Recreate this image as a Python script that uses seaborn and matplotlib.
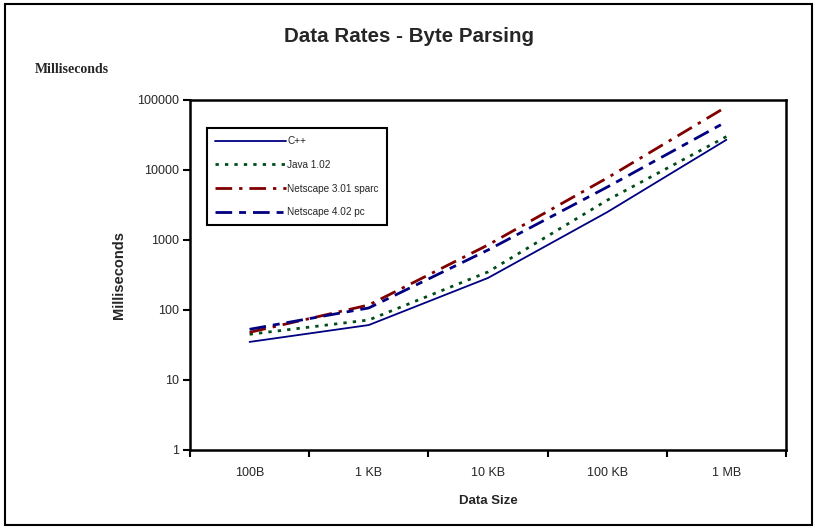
import matplotlib
matplotlib.use('Agg')
import matplotlib.pyplot as plt
import seaborn as sns
import pandas as pd

# values (milliseconds, log scale)
sizes = ['100B', '1 KB', '10 KB', '100 KB', '1 MB']
cpp = [35, 61, 287, 2500, 27000]
java = [45, 72, 350, 3700, 30000]
ns301 = [48, 118, 850, 7700, 80000]
ns402 = [53, 107, 720, 5700, 49000]

series = ['C++', 'Java 1.02', 'Netscape 3.01 sparc', 'Netscape 4.02 pc']
colors = ['#000080', '#004d1a', '#800000', '#000080']

df = pd.DataFrame({'size': sizes * 4,
                   'ms': cpp + java + ns301 + ns402,
                   'browser': [s for s in series for _ in sizes]})

sns.set_style('white')
plt.rcParams['font.family'] = ['Liberation Sans', 'DejaVu Sans']

fig = plt.figure(figsize=(8.17, 5.29), dpi=100)
ax = fig.add_axes([190 / 817, 1 - 450 / 529, 596 / 817, 350 / 529])

styles = [dict(linestyle='-', linewidth=1.3),
          dict(linestyle=(0, (1.2, 2.2)), linewidth=2.0),
          dict(linestyle=(0, (6, 2.5, 1.2, 2.5)), linewidth=2.0),
          dict(linestyle=(0, (6, 2.5, 2.5, 2.5)), linewidth=2.0)]

for name, col, st in zip(series, colors, styles):
    sub = df[df['browser'] == name]
    sns.lineplot(data=sub, x='size', y='ms', color=col, label=name, ax=ax, **st)

ax.set_yscale('log')
ax.set_ylim(1, 100000)
ax.set_xlim(-0.5, 4.5)
ax.set_yticks([1, 10, 100, 1000, 10000, 100000])
ax.set_yticklabels(['1', '10', '100', '1000', '10000', '100000'])
ax.minorticks_off()

# category labels in the middle, tick marks on the boundaries
ax.set_xticks([i - 0.5 for i in range(6)])
ax.set_xticklabels([''] * 6)
ax.set_xticks(range(len(sizes)), minor=True)
ax.set_xticklabels(sizes, minor=True)
ax.tick_params(axis='x', which='minor', length=0, pad=12, labelsize=9)
ax.tick_params(axis='x', which='major', direction='out', length=5, width=1.5, color='black')
ax.tick_params(axis='y', which='major', direction='out', length=5, width=1.5, color='black',
               labelsize=9, pad=3)
ax.tick_params(left=True, bottom=True)

for sp in ax.spines.values():
    sp.set_color('black')
    sp.set_linewidth(1.8)

ax.set_xlabel('Data Size', fontsize=9.5, fontweight='bold', labelpad=12)
ax.set_ylabel('Milliseconds', fontsize=10.5, fontweight='bold', labelpad=8)

leg = ax.legend(loc='upper left', bbox_to_anchor=(17 / 596, 322 / 350), frameon=True,
                fancybox=False, edgecolor='black', framealpha=1, fontsize=7.2,
                handlelength=7.1, handletextpad=0.12, labelspacing=1.38, borderpad=0.8,
                borderaxespad=0)
leg.get_frame().set_linewidth(1.5)

fig.text(0.5, 1 - 37 / 529, 'Data Rates - Byte Parsing', ha='center', va='center',
         fontsize=14.8, fontweight='bold')
fig.text(35 / 817, 1 - 70 / 529, 'Milliseconds', ha='left', va='center',
         fontsize=10, fontweight='bold', family=['Liberation Serif', 'DejaVu Serif'])

# outer chart border
fig.patches.append(plt.Rectangle((5 / 817, 4 / 529), 807 / 817, 521 / 529, transform=fig.transFigure,
                                 fill=False, edgecolor='black', linewidth=1.5))

fig.savefig('out.png', dpi=100)
